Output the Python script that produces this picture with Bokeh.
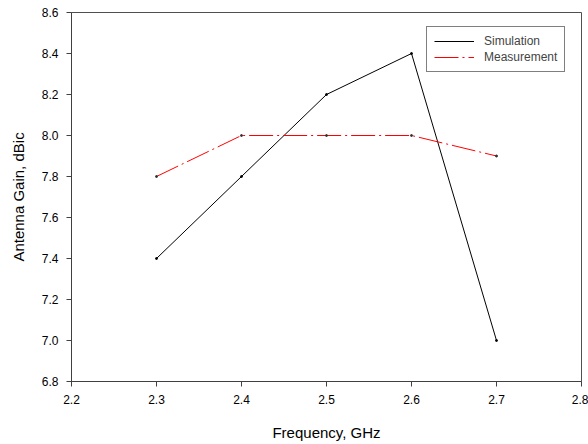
from bokeh.plotting import figure
from bokeh.models import FixedTicker, NumeralTickFormatter, Range1d, Legend, LegendItem
from bokeh.embed import file_html
from bokeh.resources import INLINE

freq = [2.3, 2.4, 2.5, 2.6, 2.7]
simulation = [7.4, 7.8, 8.2, 8.4, 7.0]
measurement = [7.8, 8.0, 8.0, 8.0, 7.9]
x_ticks = [2.2, 2.3, 2.4, 2.5, 2.6, 2.7, 2.8]
y_ticks = [6.8, 7.0, 7.2, 7.4, 7.6, 7.8, 8.0, 8.2, 8.4, 8.6]

FONT = "Liberation Sans"

p = figure(width=588, height=444, output_backend="svg", toolbar_location=None,
           x_range=Range1d(2.2, 2.8), y_range=Range1d(6.8, 8.6),
           min_border_left=71, min_border_right=7, min_border_top=12, min_border_bottom=63)
p.background_fill_color = "white"
p.border_fill_color = "white"
p.outline_line_color = "#505050"
p.outline_line_width = 1
p.grid.visible = False

r1 = p.line(freq, simulation, line_color="black", line_width=1)
p.scatter(freq, simulation, size=2, color="black")
r2 = p.line(freq, measurement, line_color="#ff0000", line_width=1, line_dash="24 4 2 4")
p.scatter(freq, measurement, size=2, color="#303030")

for ax in (p.xaxis[0], p.yaxis[0]):
    ax.axis_line_color = "#404040"
    ax.major_tick_line_color = "#404040"
    ax.major_tick_out = 5
    ax.major_tick_in = 0
    ax.minor_tick_line_color = None
    ax.major_label_text_font = FONT
    ax.major_label_text_font_size = "12px"
    ax.major_label_text_color = "black"
    ax.axis_label_text_font = FONT
    ax.axis_label_text_font_size = "15px"
    ax.axis_label_text_font_style = "normal"
    ax.axis_label_text_color = "black"
    ax.formatter = NumeralTickFormatter(format="0.0")

p.xaxis[0].ticker = FixedTicker(ticks=x_ticks)
p.yaxis[0].ticker = FixedTicker(ticks=y_ticks)
p.xaxis[0].axis_label = "Frequency, GHz"
p.yaxis[0].axis_label = "Antenna Gain, dBic"
p.xaxis[0].major_label_standoff = 8
p.yaxis[0].major_label_standoff = 8
p.xaxis[0].axis_label_standoff = 17
p.yaxis[0].axis_label_standoff = 12

legend = Legend(items=[LegendItem(label="Simulation", renderers=[r1]),
                       LegendItem(label="Measurement", renderers=[r2])],
                location=(355, 309))
legend.border_line_color = "black"
legend.border_line_width = 1
legend.background_fill_color = "white"
legend.background_fill_alpha = 1
legend.label_text_font = FONT
legend.label_text_font_size = "12px"
legend.glyph_width = 40
legend.glyph_height = 14
legend.label_height = 14
legend.spacing = 2
legend.padding = 7
legend.margin = 0
legend.label_standoff = 10
p.add_layout(legend)

open("out.html", "w").write(file_html(p, INLINE))
